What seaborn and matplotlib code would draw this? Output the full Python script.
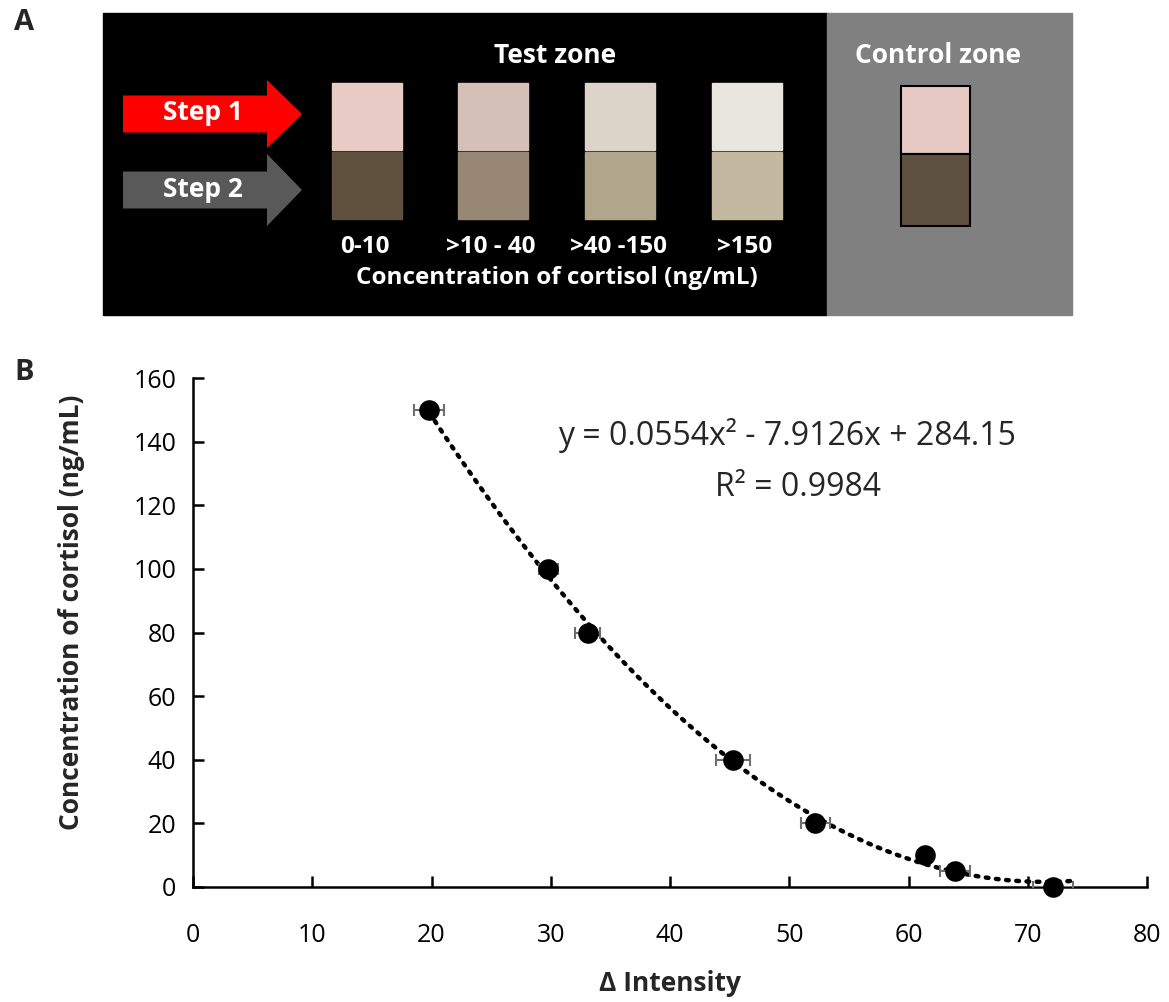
import numpy as np
import pandas as pd
import matplotlib
matplotlib.use("Agg")
import matplotlib.pyplot as plt
from matplotlib.patches import Rectangle, FancyArrow
import seaborn as sns

# Panel B data: delta intensity vs cortisol concentration
delta_intensity = [19.8, 29.8, 33.1, 45.3, 52.2, 61.4, 63.9, 72.1]
cortisol = [150, 100, 80, 40, 20, 10, 5, 0]
intensity_err = [1.25, 0.8, 1.05, 1.45, 1.2, 0.6, 1.25, 1.7]

# Quadratic trendline coefficients (from the chart label)
fit_coef = [0.0554, -7.9126, 284.15]
fit_range = [19.8, 73.6]

# Panel A data: swatch colours
range_labels = ["0-10", ">10 - 40", ">40 -150", ">150"]
step1_colors = ["#e8cbc4", "#d5c0b8", "#dcd3c9", "#e9e7dd"]
step2_colors = ["#5f513e", "#978774", "#b1a68b", "#c3b9a1"]
control_colors = ["#e6c9c2", "#5f513f"]

sns.set_theme(style="white")
plt.rcParams["font.family"] = ["Open Sans", "DejaVu Sans"]

fig = plt.figure(figsize=(11.69, 10.02), dpi=100)

# ---------- Panel A (schematic, pixel coordinates) ----------
axa = fig.add_axes([0, 0, 1, 1])
axa.set_xlim(0, 1169)
axa.set_ylim(1002, 0)
axa.axis("off")
axa.set_zorder(0)

axa.add_patch(Rectangle((103, 13), 724, 302, color="black"))
axa.add_patch(Rectangle((827, 13), 245, 302, color="#808080"))

# step arrows
axa.add_patch(FancyArrow(123, 114, 144, 0, width=37, head_width=68,
                         head_length=35, length_includes_head=False,
                         color="#ff0000", lw=0))
axa.add_patch(FancyArrow(123, 190, 144, 0, width=37, head_width=72,
                         head_length=35, length_includes_head=False,
                         color="#595959", lw=0))
axa.text(203, 112, "Step 1", color="white", fontsize=19, fontweight="bold",
         ha="center", va="center")
axa.text(203, 189, "Step 2", color="white", fontsize=19, fontweight="bold",
         ha="center", va="center")

col_x = [367, 493, 620, 747]
for cx, c1, c2, lab in zip(col_x, step1_colors, step2_colors, range_labels):
    axa.add_patch(Rectangle((cx - 35, 83), 70, 67, color=c1))
    axa.add_patch(Rectangle((cx - 35, 152), 70, 67, color=c2))
    axa.text(cx - 2, 247, lab, color="white", fontsize=17.5, fontweight="bold",
             ha="center", va="center")

axa.text(555, 55, "Test zone", color="white", fontsize=19, fontweight="bold",
         ha="center", va="center")
axa.text(557, 278, "Concentration of cortisol (ng/mL)", color="white",
         fontsize=17.5, fontweight="bold", ha="center", va="center")
axa.text(938, 55, "Control zone", color="white", fontsize=19,
         fontweight="bold", ha="center", va="center")

axa.add_patch(Rectangle((901, 86), 69, 68, facecolor=control_colors[0],
                        edgecolor="black", lw=1.5))
axa.add_patch(Rectangle((901, 154), 69, 72, facecolor=control_colors[1],
                        edgecolor="black", lw=1.5))

axa.text(14, 22, "A", fontsize=21, fontweight="bold", ha="left", va="center")
axa.text(14, 372, "B", fontsize=21, fontweight="bold", ha="left", va="center")

# ---------- Panel B ----------
ax = fig.add_axes([193 / 1169, 115 / 1002, 954 / 1169, 509 / 1002])
ax.set_zorder(1)
ax.patch.set_alpha(0)

df = pd.DataFrame({"intensity": delta_intensity, "cortisol": cortisol,
                   "err": intensity_err})

xs = np.linspace(fit_range[0], fit_range[1], 200)
fit_df = pd.DataFrame({"x": xs, "y": np.polyval(fit_coef, xs)})
sns.lineplot(data=fit_df, x="x", y="y", ax=ax, color="black",
             linestyle=(0, (0.6, 1.7)), linewidth=3.2, dash_capstyle="round",
             zorder=2)

ax.errorbar(df["intensity"], df["cortisol"], xerr=df["err"], fmt="none",
            ecolor="#6e6e6e", elinewidth=1.5, capsize=4, capthick=1.5,
            zorder=3)
sns.scatterplot(data=df, x="intensity", y="cortisol", ax=ax, color="black",
                s=220, edgecolor="black", linewidth=0, zorder=4,
                clip_on=False)

ax.set_xlim(0, 80)
ax.set_ylim(0, 160)
ax.set_xticks(range(0, 81, 10))
ax.set_yticks(range(0, 161, 20))
sns.despine(ax=ax)
for side in ["left", "bottom"]:
    ax.spines[side].set_color("black")
    ax.spines[side].set_linewidth(1.8)
ax.tick_params(axis="both", direction="in", length=8, width=1.8,
               colors="black", labelsize=18, left=True, bottom=True)
ax.tick_params(axis="x", pad=26)
ax.tick_params(axis="y", pad=12)

ax.set_xlabel("\u0394 Intensity", fontsize=19, fontweight="bold", labelpad=16)
ax.set_ylabel("Concentration of cortisol (ng/mL)", fontsize=19,
              fontweight="bold", labelpad=16)
ax.yaxis.set_label_coords(-0.113, 0.54)

ax.text(0.623, 0.888, "y = 0.0554x\u00b2 - 7.9126x + 284.15", transform=ax.transAxes,
        fontsize=23, ha="center", va="center")
ax.text(0.634, 0.784, "R\u00b2 = 0.9984", transform=ax.transAxes,
        fontsize=23, ha="center", va="center")

fig.savefig("out.png", dpi=100)
